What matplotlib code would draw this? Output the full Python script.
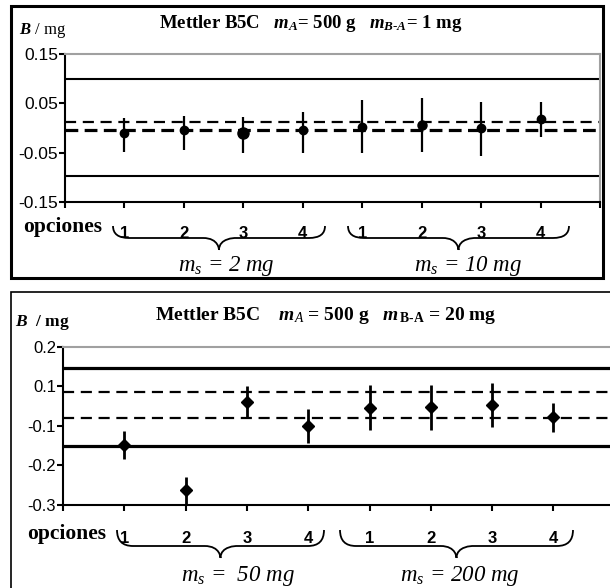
import matplotlib
matplotlib.use("Agg")
import matplotlib.pyplot as plt
from matplotlib.patches import Rectangle, PathPatch
from matplotlib.path import Path

plt.rcParams['mathtext.fontset'] = 'custom'
plt.rcParams['mathtext.rm'] = 'Liberation Serif'
plt.rcParams['mathtext.it'] = 'Liberation Serif:italic'
plt.rcParams['mathtext.bf'] = 'Liberation Serif:bold'
plt.rcParams['mathtext.bfit'] = 'Liberation Serif:italic:bold'

# ---------------- data ----------------
options = ["1", "2", "3", "4", "1", "2", "3", "4"]

top_vals = [-0.011, -0.005, -0.011, -0.005, 0.003, 0.007, -0.001, 0.019]
top_hi = [0.020, 0.024, 0.023, 0.032, 0.057, 0.060, 0.053, 0.052]
top_lo = [-0.048, -0.045, -0.051, -0.051, -0.051, -0.048, -0.056, -0.019]
top_solid = [0.100, -0.097]
top_dashed = [0.013, -0.005]
top_yticks = [0.15, 0.05, -0.05, -0.15]
top_yticklabels = ["0.15", "0.05", "-0.05", "-0.15"]

bot_vals = [-0.048, -0.162, 0.060, 0.000, 0.044, 0.048, 0.053, 0.023]
bot_hi = [-0.013, -0.129, 0.100, 0.043, 0.103, 0.103, 0.108, 0.057]
bot_lo = [-0.085, -0.215, 0.023, -0.044, -0.011, -0.011, -0.004, -0.015]
bot_solid = [0.147, -0.051]
bot_dashed = [0.085, 0.021]
bot_yticks = [0.2, 0.1, 0.0, -0.1, -0.2]
bot_yticklabels = ["0.2", "0.1", "-0.1", "-0.2", "-0.3"]

top_groups = [r"$m_s$ = 2 mg", r"$m_s$ = 10 mg"]
bot_groups = [r"$m_s$ =  50 mg", r"$m_s$ = 200 mg"]

W, H = 610, 588
fig = plt.figure(figsize=(W / 100, H / 100), dpi=100)


def fx(x):
    return x / W


def fy(y):
    return 1 - y / H


def make_axes(x0, x1, y0, y1):
    return fig.add_axes([fx(x0), fy(y1), fx(x1) - fx(x0), fy(y0) - fy(y1)])


def style_axes(ax, yticks, yticklabels, ylim, ysize, right_visible=True):
    xs = list(range(1, len(options) + 1))
    ax.set_xlim(0, len(options) + 1)
    ax.set_ylim(*ylim)
    ax.set_xticks(range(0, len(options) + 2))
    ax.set_xticklabels([""] + options + [""], fontfamily="Liberation Sans",
                       fontweight="bold", fontsize=12)
    ax.set_yticks(yticks)
    ax.set_yticklabels(yticklabels, fontfamily="Liberation Sans", fontsize=ysize)
    ax.tick_params(axis="x", direction="out", length=4, width=1.5, pad=13)
    ax.tick_params(axis="y", direction="out", length=4, width=1.5, pad=1)
    for s in ["left", "bottom"]:
        ax.spines[s].set_color("black")
        ax.spines[s].set_linewidth(1.5)
    for s in ["top", "right"]:
        ax.spines[s].set_color("#a0a0a0")
        ax.spines[s].set_linewidth(1.5)
    ax.spines["right"].set_visible(right_visible)
    return xs


def brace(x0, x1, ytop, ymid, ytip, lw=1.3):
    xc = (x0 + x1) / 2
    r = 16
    pts = [
        (x0, ytop), (x0, ymid), (x0 + r, ymid),
        (xc - r, ymid),
        (xc, ymid), (xc, ytip), (xc, ytip),
        (xc, ymid), (xc + r, ymid), (xc + r, ymid),
        (x1 - r, ymid),
        (x1, ymid), (x1, ytop),
    ]
    pts = [(fx(a), fy(b)) for a, b in pts]
    codes = [Path.MOVETO, Path.CURVE3, Path.CURVE3, Path.LINETO,
             Path.CURVE4, Path.CURVE4, Path.CURVE4,
             Path.CURVE4, Path.CURVE4, Path.CURVE4,
             Path.LINETO, Path.CURVE3, Path.CURVE3]
    fig.add_artist(PathPatch(Path(pts, codes), fill=False, lw=lw,
                             edgecolor="black", transform=fig.transFigure))


# ---------------- frames ----------------
fig.add_artist(Rectangle((fx(11), fy(278)), fx(603) - fx(11), fy(6) - fy(278),
                         fill=False, lw=2.2, edgecolor="black",
                         transform=fig.transFigure))
fig.add_artist(Rectangle((fx(11), fy(640)), fx(660) - fx(11), fy(292) - fy(640),
                         fill=False, lw=1.2, edgecolor="black",
                         transform=fig.transFigure, clip_on=False))

# ---------------- top panel ----------------
ax1 = make_axes(65, 600, 54, 202)
xs = style_axes(ax1, top_yticks, top_yticklabels, (-0.15, 0.15), 12.5)
for v in top_solid:
    ax1.axhline(v, color="black", lw=1.5)
ax1.axhline(top_dashed[0], color="black", lw=1.6, ls=(0, (5, 3)))
ax1.axhline(top_dashed[1], color="black", lw=2.3, ls=(0, (4, 2)))
msizes = [6, 6, 8, 6, 6, 6.5, 6, 6]
for x, v, lo, hi, ms in zip(xs, top_vals, top_lo, top_hi, msizes):
    ax1.errorbar([x], [v], yerr=[[v - lo], [hi - v]], fmt="o", color="black",
                 ms=ms, elinewidth=1.6, capsize=0, zorder=5)

fig.text(fx(19), fy(30), r"$\mathbfit{B}$ / mg", fontfamily="Liberation Serif",
         fontsize=12, va="center", ha="left")
fig.text(fx(311), fy(24),
         r"Mettler B5C   $\mathbfit{m}_{\mathbfit{A}}$= 500 g   $\mathbfit{m}_{\mathbfit{B\text{-}A}}$= 1 mg",
         fontfamily="Liberation Serif", fontweight="bold", fontsize=13.5,
         ha="center", va="center")
fig.text(fx(23), fy(227), "opciones", fontfamily="Liberation Serif",
         fontweight="bold", fontsize=15.5, ha="left", va="center")
brace(113, 325, 226, 238, 250)
brace(348, 569, 226, 238, 250)
fig.text(fx(226), fy(266), top_groups[0], fontfamily="Liberation Serif",
         fontstyle="italic", fontsize=16.5, ha="center", va="center")
fig.text(fx(468), fy(266), top_groups[1], fontfamily="Liberation Serif",
         fontstyle="italic", fontsize=16.5, ha="center", va="center")

# ---------------- bottom panel ----------------
ax2 = make_axes(63, 614.7, 346.7, 505)
xs = style_axes(ax2, bot_yticks, bot_yticklabels, (-0.2, 0.2), 12,
                right_visible=False)
for v in bot_solid:
    ax2.axhline(v, color="black", lw=2.3)
for v in bot_dashed:
    ax2.axhline(v, color="black", lw=1.6, ls=(0, (5, 3)))
for x, v, lo, hi in zip(xs, bot_vals, bot_lo, bot_hi):
    ax2.errorbar([x], [v], yerr=[[v - lo], [hi - v]], fmt="D", color="black",
                 ms=6, elinewidth=2.0, capsize=0, zorder=5)
ax2.tick_params(axis="x", pad=15)

fig.text(fx(15), fy(322), r"$\mathbfit{B}$  / mg", fontfamily="Liberation Serif",
         fontweight="bold", fontsize=12.5, va="center", ha="left")
fig.text(fx(326), fy(315),
         r"Mettler B5C    $\mathbfit{m}_{\mathit{A}}$ = 500 g   $\mathbfit{m}_{\,\mathbf{B\text{-}A}}$ = 20 mg",
         fontfamily="Liberation Serif", fontweight="bold", fontsize=14,
         ha="center", va="center")
fig.text(fx(27), fy(534), "opciones", fontfamily="Liberation Serif",
         fontweight="bold", fontsize=15.5, ha="left", va="center")
brace(117, 324, 530, 546, 558)
brace(340, 573, 530, 546, 558)
fig.text(fx(238), fy(576), bot_groups[0], fontfamily="Liberation Serif",
         fontstyle="italic", fontsize=16.5, ha="center", va="center")
fig.text(fx(460), fy(576), bot_groups[1], fontfamily="Liberation Serif",
         fontstyle="italic", fontsize=16.5, ha="center", va="center")

fig.savefig("out.png", dpi=100)
